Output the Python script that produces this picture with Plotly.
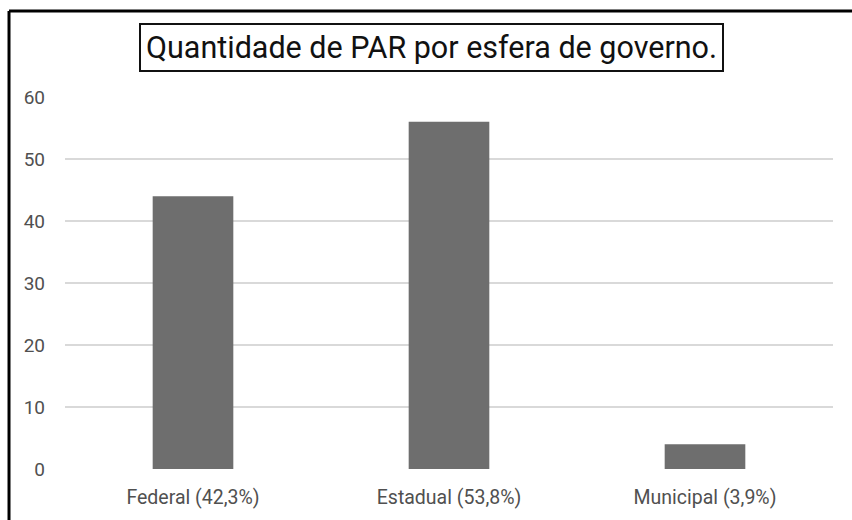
import plotly.graph_objects as go

categories = ["Federal (42,3%)", "Estadual (53,8%)", "Municipal (3,9%)"]
values = [44, 56, 4]
y_ticks = [0, 10, 20, 30, 40, 50, 60]
title_text = "Quantidade de PAR por esfera de governo."

FONT = "Roboto, sans-serif"

fig = go.Figure()
fig.add_trace(go.Bar(
    x=categories,
    y=values,
    marker=dict(color="#6e6e6e", line=dict(width=0)),
    width=0.315,
    hoverinfo="y",
))

fig.update_layout(
    width=852, height=520,
    margin=dict(l=65, r=19, t=97, b=51),
    paper_bgcolor="white", plot_bgcolor="white",
    showlegend=False,
    font=dict(family=FONT, color="#505050", size=17),
    xaxis=dict(
        type="category",
        showgrid=False, zeroline=False, showline=False, ticks="",
        tickfont=dict(size=19.5, color="#505050"),
        ticklabelstandoff=14,
        fixedrange=True,
    ),
    yaxis=dict(
        range=[0, 60],
        tickmode="array", tickvals=y_ticks,
        showgrid=True, gridcolor="#d9d9d9", gridwidth=1.5,
        zeroline=False, showline=False, ticks="",
        tickfont=dict(size=19, color="#505050"),
        ticklabelstandoff=19,
        fixedrange=True,
    ),
    annotations=[dict(
        text=title_text, xref="paper", yref="paper",
        x=0.4772, y=1.1344, xanchor="center", yanchor="middle",
        showarrow=False,
        font=dict(family=FONT, size=30.5, color="#111111"),
        bordercolor="#111111", borderwidth=2, borderpad=5,
        bgcolor="white",
    )],
    shapes=[
        dict(type="line", xref="paper", yref="paper",
             x0=-0.0729, x1=1.05, y0=1.2312, y1=1.2312,
             line=dict(color="black", width=3)),
        dict(type="line", xref="paper", yref="paper",
             x0=-0.0729, x1=-0.0729, y0=-0.2, y1=1.2312,
             line=dict(color="black", width=3)),
    ],
)

fig.write_html("out.html", config={"displayModeBar": False},
               post_script="document.body.style.margin='0';")
